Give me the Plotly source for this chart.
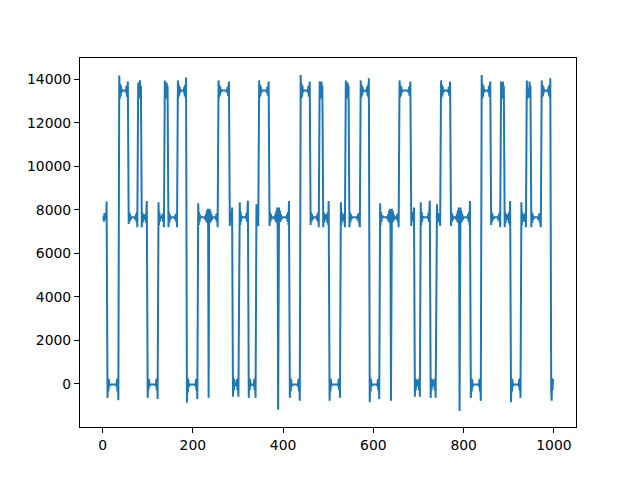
import plotly.graph_objects as go

# Vertices of the signal (sample index, value)
sample = [
    0, 2, 3, 4, 5, 6, 8, 9,
    11, 12, 13, 14, 15, 17, 30, 31, 32, 33, 34, 35,
    37, 38, 39, 40, 41, 42, 44, 50, 52, 53, 54, 55, 56,
    58, 59, 60, 61, 62, 64, 71, 73, 74, 75, 76, 77,
    79, 80, 81, 82, 83, 84, 85,
    87, 88, 89, 90, 91, 93, 94, 95, 96, 97, 98,
    100, 101, 102, 103, 104, 106, 116, 118, 119, 120, 121, 122,
    124, 125, 126, 127, 128, 130, 132, 133, 134, 135, 136,
    138, 139, 140, 141, 142, 143, 144,
    146, 147, 148, 149, 150, 152, 160, 161, 162, 163, 164, 165,
    167, 168, 169, 170, 171, 172, 174, 179, 180, 181, 182, 183, 184, 185,
    187, 188, 189, 190, 191, 193, 204, 206, 207, 208, 209, 210,
    212, 213, 214, 215, 216, 218, 226, 228, 229, 230, 231, 232, 233, 234, 235, 236, 237, 238, 239, 240, 241, 242, 244, 250, 251, 252, 253, 254, 255,
    257, 258, 259, 260, 261, 262, 264, 274, 276, 277, 278, 279, 280,
    282, 283, 284, 285, 286, 287,
    289, 290, 291, 292, 293, 295, 296, 297, 298, 299, 300, 301,
    304, 305, 306, 307, 308, 310, 316, 318, 319, 320, 321, 322,
    324, 325, 326, 327, 328, 330, 333, 335, 336, 337, 338, 339,
    341, 342, 343, 344, 345,
    347, 348, 349, 350, 351, 352, 354, 362, 364, 365, 366, 367, 368,
    370, 371, 372, 373, 374, 376, 380, 382, 383, 384, 385, 386, 387, 388, 389, 390, 391, 392, 393, 394, 395, 396, 398, 406, 408, 409, 410, 411, 412, 413,
    415, 416, 417, 418, 419, 421, 431, 433, 434, 435, 436, 437,
    439, 440, 441, 442, 443, 444, 446, 453, 455, 456, 457, 458, 459,
    461, 462, 463, 464, 465, 467, 473, 475, 476, 477, 478, 479,
    481, 482, 483, 484, 485, 486, 487,
    489, 490, 491, 492, 493, 495, 496, 497, 498, 499, 500, 501,
    503, 504, 505, 506, 507, 509, 520, 522, 523, 524, 525, 526,
    528, 529, 530, 531, 532, 533, 534, 535, 536, 537,
    539, 540, 541, 542, 543, 544, 545,
    547, 548, 549, 550, 551, 553, 563, 565, 566, 567, 568, 569, 570,
    572, 573, 574, 575, 576, 577, 579, 584, 585, 586, 587, 588, 589, 590,
    592, 593, 594, 595, 596, 598, 607, 609, 610, 611, 612, 613,
    615, 616, 617, 618, 619, 621, 630, 632, 633, 634, 635, 636, 637, 638, 639, 640, 641, 642, 643, 644, 645, 646, 648, 651, 652, 653, 654, 655, 656,
    658, 659, 660, 661, 662, 663, 665, 676, 678, 679, 680, 681, 682,
    684, 685, 686, 687, 688, 689, 690,
    692, 693, 694, 695, 696, 698, 699, 700, 701, 702, 703,
    705, 706, 707, 708, 709, 711, 719, 721, 722, 723, 724, 725,
    727, 728, 729, 730, 731, 733, 734, 735, 736, 737, 738,
    741, 742, 743, 744, 745, 746, 747, 748,
    750, 751, 752, 753, 754, 755, 757, 764, 766, 767, 768, 769, 770,
    772, 773, 774, 775, 776, 778, 782, 784, 785, 786, 787, 788, 789, 790, 791, 792, 793, 794, 795, 796, 797, 798, 800, 807, 809, 810, 811, 812, 813, 814,
    816, 817, 818, 819, 820, 822, 832, 834, 835, 836, 837, 838,
    840, 841, 842, 843, 844, 845, 847, 853, 855, 856, 857, 858, 859,
    861, 862, 863, 864, 865, 867, 875, 877, 878, 879, 880, 881,
    883, 884, 885, 886, 887, 888, 889,
    891, 892, 893, 894, 895, 897, 898, 899, 900, 901, 902, 903,
    905, 906, 907, 908, 909, 911, 920, 922, 923, 924, 925, 926,
    928, 929, 930, 931, 932, 933, 934, 935, 936, 937, 938,
    940, 941, 942, 943, 944, 945, 946, 947, 948,
    950, 951, 952, 953, 954, 956, 964, 966, 967, 968, 969, 970, 971,
    973, 974, 975, 976, 977, 978, 980, 986, 987, 988, 989, 990, 991, 992,
    994, 995, 996, 997, 998, 999,
]

value = [
    7660, 7660, 7450, 7850, 7550, 7700, 7550, 8380,
    -660, 250, -350, 200, -120, -30, -30, -120, 200, -350, 250, -760,
    14180, 13100, 13800, 13200, 13700, 13400, 13480, 13480, 13400, 13700, 13200, 13800, 13900,
    7350, 7900, 7450, 7800, 7550, 7660, 7660, 7550, 7800, 7450, 7900, 7200,
    13850, 13100, 13600, 13150, 13950, 13300, 13700,
    7200, 7900, 7400, 7800, 7600, 7660, 7550, 7800, 7400, 7900, 8400,
    -650, 250, -300, 200, -100, -30, -30, -100, 200, -300, 250, -700,
    8350, 7300, 7900, 7450, 7700, 7660, 7600, 7800, 7450, 7850, 7200,
    13950, 13100, 13600, 13150, 13850, 13300, 13700,
    7200, 7900, 7400, 7800, 7550, 7660, 7660, 7550, 7800, 7450, 7850, 7200,
    13950, 13150, 13750, 13250, 13650, 13400, 13480, 13480, 13400, 13650, 13250, 13750, 13150, 14080,
    -870, 300, -400, 200, -150, -30, -30, -100, 200, -300, 250, -700,
    8300, 7300, 7900, 7450, 7750, 7660, 7660, 7550, 7800, 7450, 7950, 7400, 8050, 7100, -650, 7200, 8050, 7400, 7950, 7450, 7800, 7550, 7660, 7660, 7550, 7800, 7450, 7850, 7200,
    13950, 13150, 13750, 13250, 13650, 13400, 13480, 13480, 13400, 13650, 13250, 13750, 13900,
    7250, 7900, 7500, 7800, 7450, 8100,
    -600, 250, -300, 200, -100, -30, -30, -100, 200, -300, 250, -600,
    8350, 7300, 7900, 7450, 7700, 7660, 7660, 7600, 7850, 7450, 7900, 8420,
    -650, 250, -300, 200, -100, -30, -30, -100, 200, -300, 250, -650,
    8250, 7400, 7850, 7400, 7250,
    13950, 13150, 13750, 13250, 13650, 13400, 13480, 13480, 13400, 13650, 13250, 13750, 13900,
    7250, 7900, 7450, 7800, 7550, 7660, 7660, 7550, 7800, 7450, 7950, 7400, 8100, 7100, -1200, 7200, 8100, 7400, 7950, 7450, 7800, 7550, 7660, 7660, 7600, 7800, 7450, 7900, 7300, 8400,
    -650, 250, -350, 200, -120, -30, -30, -120, 200, -350, 250, -780,
    14200, 13100, 13800, 13200, 13700, 13400, 13480, 13480, 13400, 13700, 13200, 13800, 13900,
    7300, 7900, 7450, 7800, 7550, 7660, 7660, 7550, 7800, 7450, 7900, 7200,
    13900, 13100, 13600, 13150, 13900, 13300, 13700,
    7200, 7900, 7400, 7800, 7600, 7660, 7550, 7800, 7400, 7900, 7300, 8400,
    -780, 250, -350, 200, -100, -30, -30, -100, 200, -300, 250, -650,
    8350, 7300, 7900, 7450, 7750, 7660, 7550, 7800, 7450, 7200,
    13950, 13100, 13600, 13150, 13850, 13300, 13700,
    7200, 7900, 7400, 7800, 7550, 7660, 7660, 7550, 7800, 7450, 7850, 7350, 7200,
    13950, 13150, 13750, 13250, 13650, 13400, 13480, 13480, 13400, 13650, 13250, 13750, 13150, 14050,
    -850, 300, -350, 200, -120, -30, -30, -100, 200, -300, 250, -700,
    8300, 7300, 7900, 7450, 7750, 7660, 7660, 7550, 7800, 7450, 7950, 7400, 8050, 7100, -780, 7200, 8050, 7400, 7950, 7450, 7800, 7550, 7660, 7660, 7550, 7800, 7450, 7850, 7200,
    13950, 13150, 13750, 13250, 13650, 13400, 13480, 13480, 13400, 13650, 13250, 13750, 13900,
    7250, 7900, 7500, 7800, 7450, 7700, 8100,
    -600, 250, -300, 200, -100, -30, -100, 200, -300, 250, -600,
    8350, 7300, 7900, 7450, 7700, 7660, 7660, 7600, 7850, 7450, 7900, 8420,
    -650, 250, -300, 200, -100, -30, -100, 200, -300, 250, -650,
    8250, 7400, 7850, 7500, 7700, 7450, 7800, 7250,
    13950, 13150, 13750, 13250, 13650, 13400, 13480, 13480, 13400, 13650, 13250, 13750, 13900,
    7250, 7900, 7450, 7800, 7550, 7660, 7660, 7550, 7800, 7450, 7950, 7400, 8100, 7100, -1250, 7200, 8100, 7400, 7950, 7450, 7800, 7550, 7660, 7660, 7600, 7800, 7450, 7900, 7300, 8400,
    -650, 250, -350, 200, -120, -30, -30, -120, 200, -350, 250, -780,
    14200, 13100, 13800, 13200, 13700, 13400, 13480, 13480, 13400, 13700, 13200, 13800, 13900,
    7300, 7900, 7450, 7800, 7550, 7660, 7660, 7550, 7800, 7450, 7900, 7200,
    13900, 13100, 13600, 13150, 13900, 13300, 13700,
    7200, 7900, 7400, 7800, 7600, 7660, 7550, 7800, 7400, 7900, 7300, 8400,
    -850, 250, -350, 200, -100, -30, -30, -100, 200, -300, 250, -650,
    8350, 7300, 7900, 7450, 7750, 7660, 7550, 7800, 7450, 7850, 7200,
    13950, 13100, 13600, 13200, 13500, 13150, 13900, 13300, 13700,
    7200, 7900, 7400, 7800, 7550, 7660, 7660, 7550, 7800, 7450, 7850, 7350, 7200,
    13950, 13150, 13750, 13250, 13650, 13400, 13480, 13480, 13400, 13650, 13250, 13750, 13150, 14050,
    -300, -780, 250, -300, 200, 100,
]

if len(sample) != len(value):
    raise ValueError(f"length mismatch {len(sample)} vs {len(value)}")

x_ticks = [0, 200, 400, 600, 800, 1000]
y_ticks = [0, 2000, 4000, 6000, 8000, 10000, 12000, 14000]

fig = go.Figure(
    go.Scatter(
        x=sample, y=value, mode="lines",
        line=dict(color="#1f77b4", width=2.0),
        hoverinfo="skip",
    )
)

axis_common = dict(
    showgrid=False, zeroline=False,
    showline=True, linecolor="black", linewidth=1.1, mirror=True,
    ticks="outside", ticklen=5, tickwidth=1.1, tickcolor="black",
    tickfont=dict(family="DejaVu Sans", size=13.9, color="black"),
)

# page body has an 8px margin, so the figure is shrunk and offset accordingly
fig.update_layout(
    width=632, height=472,
    margin=dict(l=72, r=64, t=50, b=53, pad=0),
    paper_bgcolor="white", plot_bgcolor="white",
    showlegend=False,
    font=dict(family="DejaVu Sans", size=13.9, color="black"),
    xaxis=dict(range=[-49.95, 1048.95], tickvals=x_ticks,
               ticktext=[str(v) for v in x_ticks], **axis_common),
    yaxis=dict(range=[-1990, 14980], tickvals=y_ticks,
               ticktext=[str(v) for v in y_ticks], **axis_common),
)

fig.write_html("out.html")
